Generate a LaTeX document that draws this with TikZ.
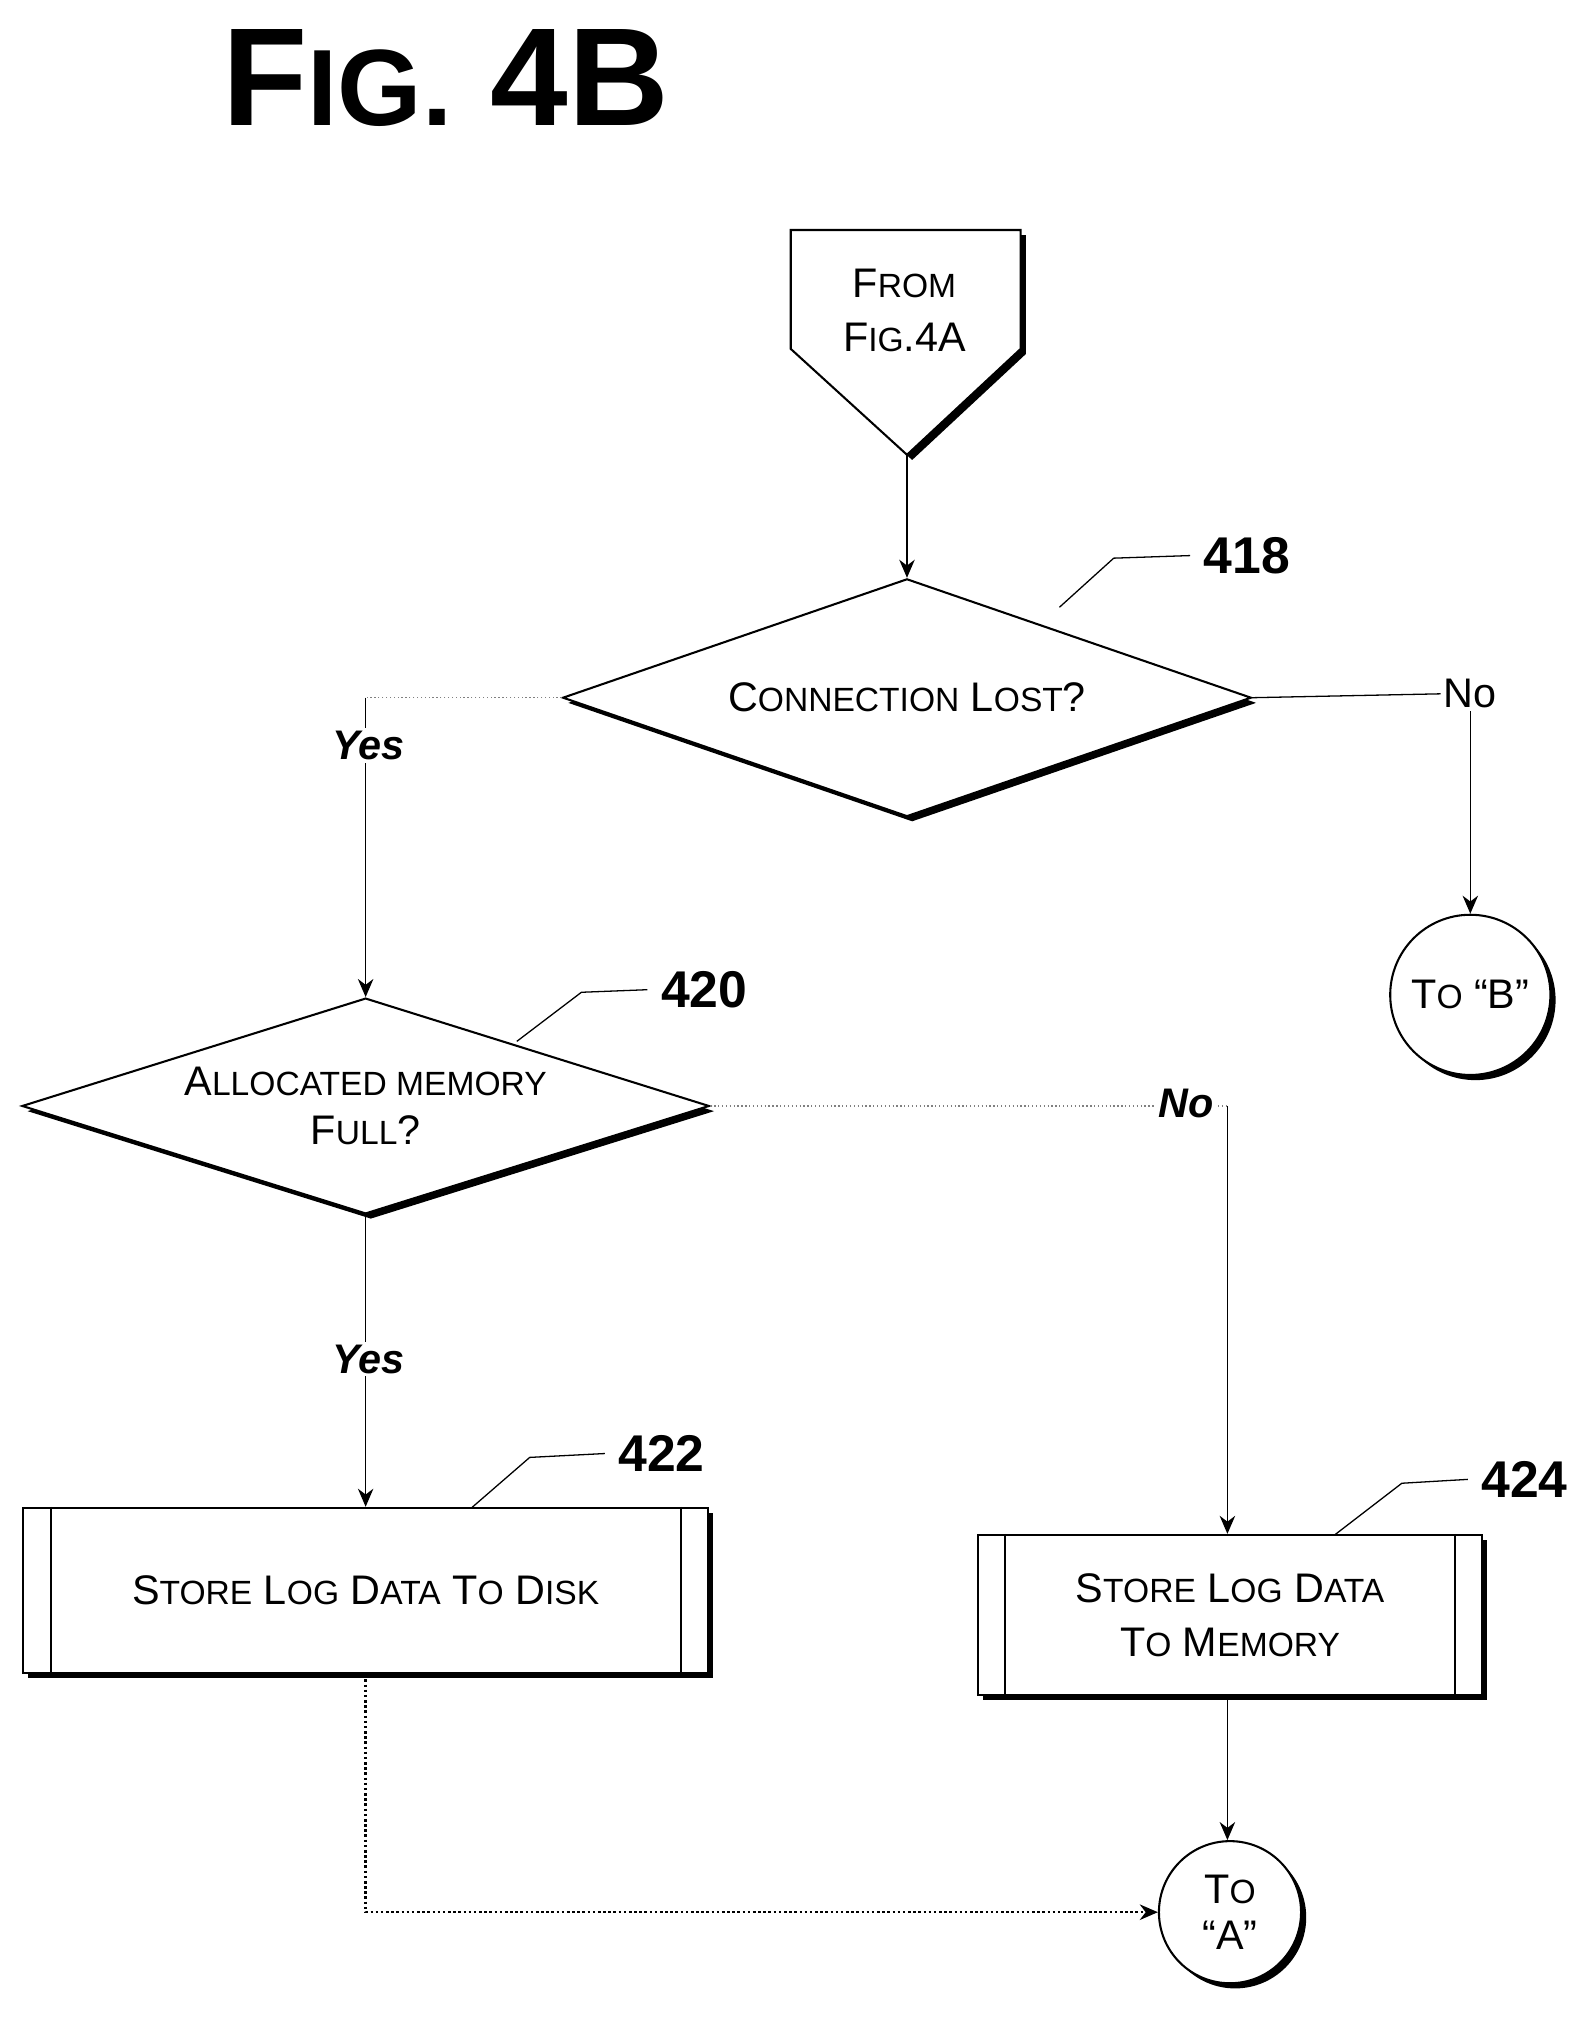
\documentclass[tikz,border=0pt]{standalone}
\usepackage{fontspec}
\setmainfont{Liberation Sans}
\usetikzlibrary{shapes.geometric,shadows,calc,arrows.meta}
\tikzset{every picture/.style={line width=0.5pt}}
\tikzset{
  shd/.style={drop shadow={shadow xshift=2pt,shadow yshift=-2pt,opacity=1,fill=black}},
  dec/.style={diamond,draw,line width=0.8pt,fill=white,shd,inner sep=0pt,align=center,font=\fontsize{16}{19}\selectfont},
  term/.style={circle,draw,line width=0.8pt,fill=white,shd,minimum size=62pt,inner sep=0pt,align=center,font=\fontsize{16}{18}\selectfont},
  proc/.style={rectangle,draw,line width=0.8pt,fill=white,shd,inner sep=0pt,align=center,font=\fontsize{16}{21}\selectfont},
  ref/.style={font=\bfseries\fontsize{20}{24}\selectfont,inner sep=0pt},
  ans/.style={font=\bfseries\itshape\fontsize{16}{19}\selectfont,inner sep=1pt,fill=white},
  arr/.style={-{Stealth[length=7pt,width=6pt]}},
}
\newcommand{\smc}[1]{{\fontsize{13}{16}\selectfont #1}}
\begin{document}
\begin{tikzpicture}[x=0.5pt,y=-0.5pt]
\useasboundingbox (0,0) rectangle (1225,1565);
% title
\node[inner sep=0pt,font=\bfseries\fontsize{54}{60}\selectfont] (title) at (345,60) {F{\fontsize{42}{50}\selectfont IG.} 4B};
% off-page connector
\fill (616,182) -- (794,182) -- (794,274) -- (706,356) -- (616,274) -- cycle;
\draw[line width=0.8pt,fill=white] (612,178) -- (790,178) -- (790,270) -- (702,352) -- (612,270) -- cycle;
\coordinate (from) at (702,352);
\node[align=center,font=\fontsize{16}{21}\selectfont] (fromtxt) at (700,240) {F\smc{ROM}\\F\smc{IG}.4A};
% decisions
\node[dec,aspect=2.9,minimum width=266.5pt,minimum height=92pt] (d418) at (702,540) {C\smc{ONNECTION} L\smc{OST}?};
\node[dec,aspect=3.2,minimum width=266pt,minimum height=83.5pt] (d420) at (283,856) {A\smc{LLOCATED MEMORY}\\F\smc{ULL}?};
% terminals
\node[term] (toB) at (1138,770) {T\smc{O} “B”};
\node[term,minimum size=55pt] (toA) at (952,1480) {T\smc{O}\\“A”};
% processes
\node[proc,minimum width=265pt,minimum height=64pt] (p422) at (283,1231) {S\smc{TORE} L\smc{OG} D\smc{ATA} T\smc{O} D\smc{ISK}};
\node[proc,minimum width=195pt,minimum height=62pt] (p424) at (952,1250) {S\smc{TORE} L\smc{OG} D\smc{ATA}\\T\smc{O} M\smc{EMORY}};
\foreach \n in {p422,p424}{
  \draw[line width=0.8pt] ($(\n.north west)+(11pt,0)$) -- ($(\n.south west)+(11pt,0)$);
  \draw[line width=0.8pt] ($(\n.north east)+(-11pt,0)$) -- ($(\n.south east)+(-11pt,0)$);
}
% reference numerals
\node[ref] (r418) at (965,430) {418};
\node[ref] (r420) at (545,766) {420};
\node[ref] (r422) at (512,1125) {422};
\node[ref] (r424) at (1180,1145) {424};
\draw (820,470) -- (862,432) -- ([xshift=-5pt]r418.west);
\draw (400,806) -- (450,768) -- ([xshift=-5pt]r420.west);
\draw (365,1167) -- (410,1128) -- ([xshift=-5pt]r422.west);
\draw (1033,1188) -- (1085,1148) -- ([xshift=-5pt]r424.west);
% connectors
\draw[arr] (from) -- (d418.north);
\node[font=\fontsize{16}{19}\selectfont,inner sep=1pt] (no1) at (1138,537) {No};
\draw (d418.east) -- (no1.west);
\draw[arr] (no1.south) -- (toB.north);
\draw[densely dotted,gray] (d418.west) -- (283,540);
\draw[arr] (283,540) -- (d420.north);
\node[ans] (yes1) at (285,577) {Yes};
\draw[densely dotted,gray] (d420.east) -- (950,856);
\draw[arr] (950,856) -- (p424.north -| 950,856);
\node[ans] (no2) at (918,854) {No};
\draw[arr] (d420.south) -- (p422.north);
\node[ans] (yes2) at (285,1052) {Yes};
\draw[arr] (p424.south -| 950,0) -- (toA.north -| 950,0);
\draw[densely dotted,line width=1pt,arr] (p422.south) |- (toA.west);
\end{tikzpicture}
\end{document}
